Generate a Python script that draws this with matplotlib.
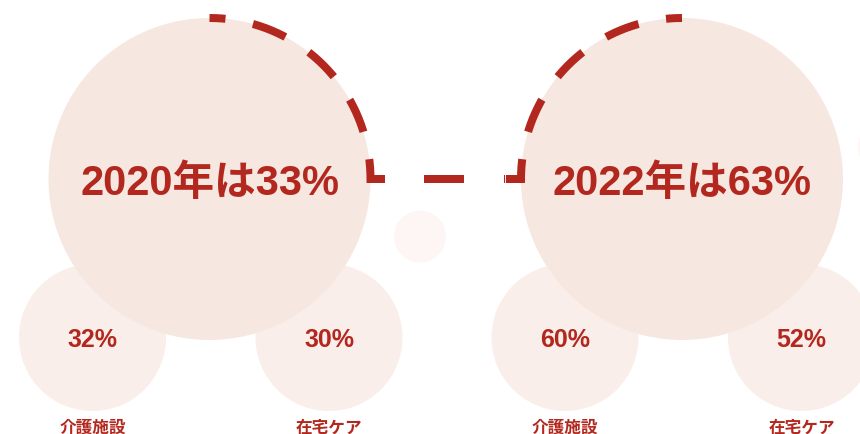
import numpy as np
import matplotlib
matplotlib.use('Agg')
import matplotlib.pyplot as plt
from matplotlib.patches import Circle

plt.rcParams['font.family'] = ['Liberation Sans', 'Noto Sans CJK JP']
plt.rcParams['lines.scale_dashes'] = False

# データ
years = ['2020', '2022']
totals = [33, 63]
facility = [32, 60]
home = [30, 52]
labels = ['介護施設', '在宅ケア']

RED = '#B3281E'
BIG = '#F7E7E1'
SMALL = '#FAEEEA'
FAINT = '#FDF6F4'

fig = plt.figure(figsize=(8.6, 4.35), dpi=100)
ax = fig.add_axes([0, 0, 1, 1])
ax.set_xlim(0, 860)
ax.set_ylim(435, 0)
ax.axis('off')

big_x = [209.5, 682]
big_y = 180
big_r = 161
small_dx = [-117, 119.5]
small_y = 338.5
small_r = 73.5
px = 0.72  # px -> pt

# 薄い飾りの円
ax.add_patch(Circle((420, 237.5), 26, color=FAINT, lw=0, zorder=1))
ax.add_patch(Circle((888, 148), 30, color=FAINT, lw=0, zorder=1))

for i, yr in enumerate(years):
    cx = big_x[i]
    vals = [facility[i], home[i]]
    for j, dx in enumerate(small_dx):
        sx = cx + dx
        ax.add_patch(Circle((sx, small_y), small_r, color=SMALL, lw=0, zorder=2))
        ax.text(sx, small_y + 2, f'{vals[j]}%', color=RED, fontsize=18,
                fontweight='bold', ha='center', va='center', zorder=5)
        ax.text(sx, 428, labels[j], color=RED, fontsize=12,
                fontweight='bold', ha='center', va='center', zorder=5)
    ax.add_patch(Circle((cx, big_y), big_r, color=BIG, lw=0, zorder=3))
    ax.text(cx, big_y + 4, f'{yr}年は{totals[i]}%', color=RED, fontsize=30,
            fontweight='bold', ha='center', va='center', zorder=5)

# 破線（円弧 + 横線）
mid_l = 385
mid_r = 505
t = np.linspace(-np.pi / 2, 0, 200)
xa = np.r_[big_x[0] + big_r * np.cos(t), mid_l]
ya = np.r_[big_y + big_r * np.sin(t), big_y]
t2 = np.linspace(-np.pi / 2, -np.pi, 200)
xc = np.r_[big_x[1] + big_r * np.cos(t2), mid_r]
yc = np.r_[big_y + big_r * np.sin(t2), big_y]
for xs, ys in [(xa, ya), (xc, yc)]:
    ax.plot(xs, ys, color=RED, lw=8 * px, solid_joinstyle='miter',
            dash_joinstyle='miter', dash_capstyle='butt', zorder=4,
            linestyle=(19 * px, (35 * px, 28 * px)))
ax.plot([mid_l, mid_r], [big_y, big_y], color=RED, lw=8 * px,
        dash_capstyle='butt', zorder=4,
        linestyle=(41 * px, (40 * px, 40 * px)))

fig.savefig('out.png', dpi=100, facecolor='white')
